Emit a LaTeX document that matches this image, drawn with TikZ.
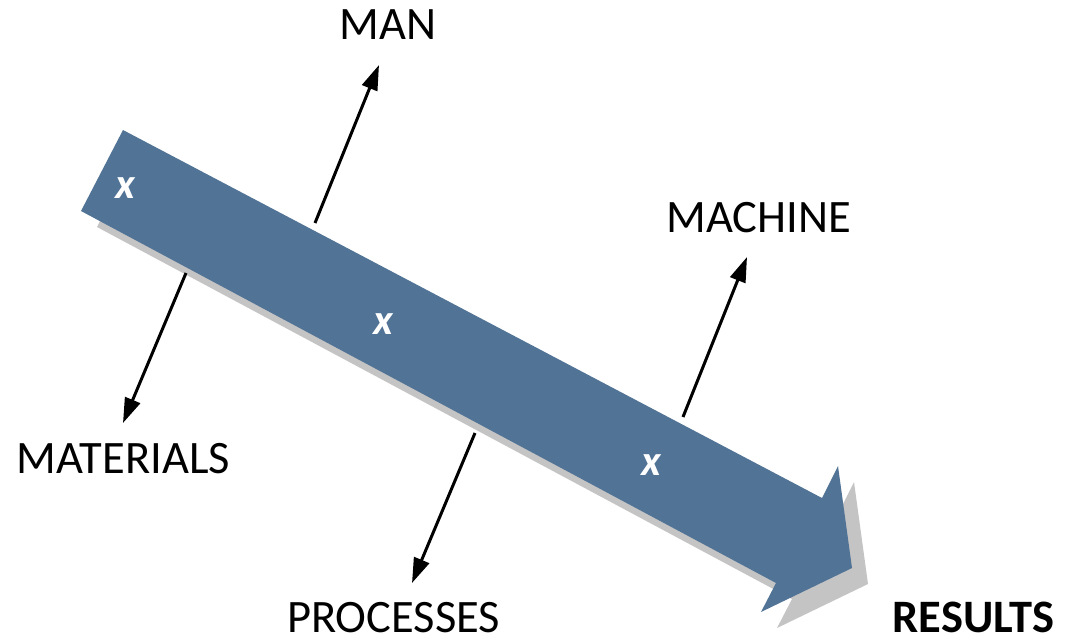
\documentclass[tikz,border=0pt]{standalone}
\usepackage{fontspec}
\setmainfont{Carlito}
\usetikzlibrary{arrows.meta}
\definecolor{flowblue}{RGB}{81,115,150}
\definecolor{flowshadow}{RGB}{196,196,196}
\begin{document}
\begin{tikzpicture}[x=1pt,y=-1pt,
  label/.style={font=\fontsize{46.5}{50}\selectfont, anchor=base, inner sep=0pt, text depth=0pt},
  xmark/.style={font=\fontsize{43}{46}\selectfont\bfseries\itshape, text=white, anchor=base, inner sep=0pt},
  factor/.style={line width=3pt, -{Triangle[length=25pt,width=16pt]}}]
  \useasboundingbox (0,0) rectangle (1070,640);

  % main flow arrow with its drop shadow
  \def\flowpath{(123,130) -- (822,498) -- (838,466) -- (852,568) -- (761,612) -- (776,583) -- (81,211) -- cycle}
  \fill[flowshadow, shift={(16,16)}] \flowpath;
  \fill[flowblue] \flowpath;

  % marks on the flow
  \node[xmark] (x1) at (125,198) {x};
  \node[xmark] (x2) at (383,334) {x};
  \node[xmark] (x3) at (651,475) {x};

  % labels
  \node[label] (man) at (388,39) {MAN};
  \node[label] (machine) at (758.5,232) {MACHINE};
  \node[label] (materials) at (123.5,473) {MATERIALS};
  \node[label] (processes) at (393.5,632) {PROCESSES};
  \node[label, font=\fontsize{46.5}{50}\selectfont\bfseries] (results) at (973.5,632) {RESULTS};

  % connector end points
  \coordinate (manFrom) at (315,223);
  \coordinate (manTo) at (379,65);
  \coordinate (matFrom) at (186,273);
  \coordinate (matTo) at (123,423);
  \coordinate (procFrom) at (475,433);
  \coordinate (procTo) at (412,583);
  \coordinate (machFrom) at (683,417);
  \coordinate (machTo) at (747,257);

  \draw[factor] (manFrom) -- (manTo);
  \draw[factor] (matFrom) -- (matTo);
  \draw[factor] (procFrom) -- (procTo);
  \draw[factor] (machFrom) -- (machTo);
\end{tikzpicture}
\end{document}
